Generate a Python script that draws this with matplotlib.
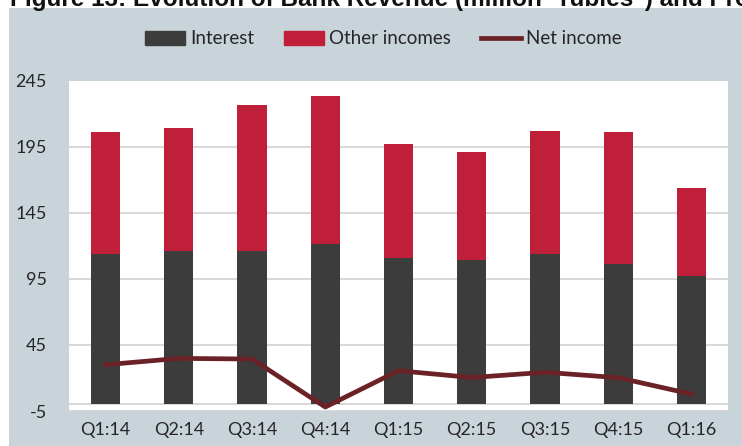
import matplotlib
matplotlib.use("Agg")
import matplotlib.pyplot as plt
from matplotlib.patches import Rectangle
from matplotlib.lines import Line2D
import numpy as np

categories = ["Q1:14", "Q2:14", "Q3:14", "Q4:14", "Q1:15", "Q2:15", "Q3:15", "Q4:15", "Q1:16"]
totals = [205.8, 208.8, 226.7, 233.3, 196.8, 190.9, 206.6, 205.8, 163.7]
interest = [113.8, 116.0, 116.0, 121.3, 110.7, 109.2, 114.0, 106.4, 97.1]
other_incomes = [t - i for t, i in zip(totals, interest)]
net_income = [30.0, 34.8, 34.3, -2.0, 25.5, 20.3, 24.3, 20.2, 7.8]
yticks = [-5, 45, 95, 145, 195, 245]

font = "Lato"
plt.rcParams["font.family"] = [font, "DejaVu Sans"]
plt.rcParams["axes.unicode_minus"] = False

W, H = 742, 446
fig = plt.figure(figsize=(W / 100, H / 100), dpi=100, facecolor="white")

# grey panel background
bg = Rectangle((9 / W, 0), 1 - 9 / W, (H - 8) / H, transform=fig.transFigure,
               facecolor="#c9d3da", edgecolor="none", zorder=-10)
fig.patches.append(bg)
# partially visible title (cut off at top, as in the source)
fig.text(10 / W, 1 - 6 / H, 'Figure 13: Evolution of Bank Revenue (million "rubles") and Profit',
         fontsize=17.5, fontweight="bold", family="Liberation Sans", color="#111111",
         va="baseline", ha="left", zorder=-5)

ax = fig.add_axes([69 / W, 1 - 411 / H, (728 - 69) / W, (411 - 80.5) / H])
ax.set_zorder(1)
ax.set_facecolor("white")
x = np.arange(len(categories))
bw = 0.40
ax.bar(x, interest, bw, color="#3c3c3c", zorder=2, label="Interest")
ax.bar(x, other_incomes, bw, bottom=interest, color="#c01f3a", zorder=2, label="Other incomes")
ax.plot(x, net_income, color="#6b2226", lw=3.4, zorder=3, label="Net income")

ax.set_xlim(-0.5, len(categories) - 0.5)
ax.set_ylim(-5, 245)
ax.set_yticks(yticks)
ax.set_xticks(x)
ax.set_xticklabels(categories)
ax.grid(axis="y", color="#d9d9d9", lw=1.5, zorder=1)
ax.axhline(0, color="#d9d9d9", lw=1.5, zorder=1)
for s in ax.spines.values():
    s.set_visible(False)
ax.tick_params(axis="both", length=0, labelsize=13, colors="#262626")
ax.tick_params(axis="y", pad=16)
ax.tick_params(axis="x", pad=8)

handles = [Rectangle((0, 0), 1, 1, color="#3c3c3c"),
           Rectangle((0, 0), 1, 1, color="#c01f3a"),
           Line2D([], [], color="#6b2226", lw=3.4)]
leg = fig.legend(handles, ["Interest", "Other incomes", "Net income"], loc="center",
                 bbox_to_anchor=(0.517, 1 - 39 / H), ncol=3, frameon=False,
                 fontsize=13.5, handlelength=2.1, handleheight=0.75, handletextpad=0.3,
                 columnspacing=1.6, labelcolor="#262626")

fig.savefig("out.png", dpi=100, facecolor="white")
